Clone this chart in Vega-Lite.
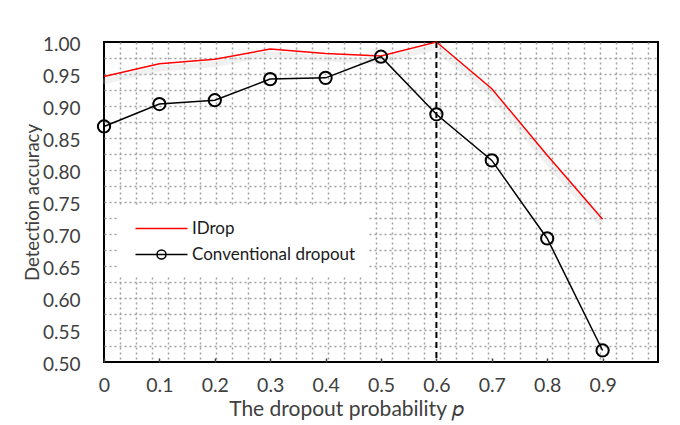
{
  "$schema": "https://vega.github.io/schema/vega-lite/v6.json",
  "autosize": {"type": "none"},
  "padding": {"left": 104, "top": 42, "right": 22, "bottom": 63},
  "width": 554,
  "height": 320,
  "background": "white",
  "config": {
    "view": {"stroke": "#000000", "strokeWidth": 2},
    "font": "Lato",
    "axis": {"labelFont": "Lato", "titleFont": "Lato", "labelColor": "#404040", "titleColor": "#404040", "titleFontWeight": "normal"}
  },
  "datasets": {
    "acc": [
      {"p": 0.0, "series": "IDrop", "acc": 0.946},
      {"p": 0.1, "series": "IDrop", "acc": 0.966},
      {"p": 0.2, "series": "IDrop", "acc": 0.973},
      {"p": 0.3, "series": "IDrop", "acc": 0.989},
      {"p": 0.4, "series": "IDrop", "acc": 0.982},
      {"p": 0.5, "series": "IDrop", "acc": 0.978},
      {"p": 0.6, "series": "IDrop", "acc": 1.0},
      {"p": 0.7, "series": "IDrop", "acc": 0.927},
      {"p": 0.8, "series": "IDrop", "acc": 0.823},
      {"p": 0.9, "series": "IDrop", "acc": 0.723},
      {"p": 0.0, "series": "Conventional dropout", "acc": 0.868},
      {"p": 0.1, "series": "Conventional dropout", "acc": 0.903},
      {"p": 0.2, "series": "Conventional dropout", "acc": 0.909},
      {"p": 0.3, "series": "Conventional dropout", "acc": 0.942},
      {"p": 0.4, "series": "Conventional dropout", "acc": 0.944},
      {"p": 0.5, "series": "Conventional dropout", "acc": 0.977},
      {"p": 0.6, "series": "Conventional dropout", "acc": 0.887},
      {"p": 0.7, "series": "Conventional dropout", "acc": 0.815},
      {"p": 0.8, "series": "Conventional dropout", "acc": 0.693},
      {"p": 0.9, "series": "Conventional dropout", "acc": 0.518}
    ],
    "marker": [{"p": 0.6}]
  },
  "resolve": {"axis": {"x": "independent", "y": "independent"}},
  "layer": [
    {
      "data": {"name": "acc"},
      "transform": [{"filter": "datum.series === 'IDrop'"}],
      "mark": {"type": "line", "stroke": "#c8c8c8", "strokeWidth": 6, "opacity": 0.25, "yOffset": 5, "xOffset": -1},
      "encoding": {
        "x": {"field": "p", "type": "quantitative", "axis": null},
        "y": {"field": "acc", "type": "quantitative", "axis": null}
      }
    },
    {
      "data": {"name": "acc"},
      "mark": {"type": "line", "strokeWidth": 1.5},
      "encoding": {
        "x": {
          "field": "p", "type": "quantitative",
          "scale": {"domain": [0, 1], "nice": false, "zero": false},
          "axis": {
            "orient": "bottom", "title": null, "labels": false, "ticks": false, "domain": false,
            "grid": true, "gridColor": "#a0a0a0", "gridDash": [2, 3], "gridWidth": 1.5,
            "values": [0.0289, 0.0578, 0.0867, 0.1156, 0.1445, 0.1734, 0.2023, 0.2312, 0.2601, 0.289, 0.3179, 0.3468, 0.3757, 0.4046, 0.4335, 0.4624, 0.4913, 0.5202, 0.5491, 0.578, 0.6069, 0.6358, 0.6647, 0.6936, 0.7225, 0.7514, 0.7803, 0.8092, 0.8381, 0.867, 0.8959, 0.9248, 0.9537, 0.9826]
          }
        },
        "y": {
          "field": "acc", "type": "quantitative",
          "scale": {"domain": [0.5, 1.0], "nice": false, "zero": false},
          "axis": {
            "orient": "left", "title": null, "labels": false, "ticks": false, "domain": false,
            "grid": true, "gridColor": "#a0a0a0", "gridDash": [2, 3], "gridWidth": 1.5,
            "values": [0.525, 0.55, 0.575, 0.6, 0.625, 0.65, 0.675, 0.7, 0.725, 0.75, 0.775, 0.8, 0.825, 0.85, 0.875, 0.9, 0.925, 0.95, 0.975]
          }
        },
        "stroke": {
          "field": "series", "type": "nominal",
          "scale": {"domain": ["IDrop", "Conventional dropout"], "range": ["#ff0000", "#000000"]},
          "legend": {
            "title": null,
            "orient": "none",
            "legendX": 15,
            "legendY": 164,
            "fillColor": "white",
            "padding": 13,
            "symbolType": "stroke",
            "symbolSize": 289,
            "symbolOffset": 20,
            "symbolStrokeWidth": 1.5,
            "labelFont": "Lato",
            "labelFontSize": 17,
            "labelColor": "#1a1a1a",
            "labelOffset": 21,
            "labelLimit": 400,
            "rowPadding": 8,
            "encode": {
              "symbols": {
                "update": {
                  "shape": {"signal": "datum.value === 'IDrop' ? 'M-3.06,0H3.06' : 'M-3.06,0H3.06M0.53,0A0.53,0.53,0,1,1,-0.53,0A0.53,0.53,0,1,1,0.53,0'"},
                  "fill": {"value": "transparent"}
                }
              }
            }
          }
        }
      }
    },
    {
      "data": {"name": "acc"},
      "transform": [{"filter": "datum.series === 'Conventional dropout'"}],
      "mark": {"type": "point", "shape": "circle", "filled": false, "stroke": "#000000", "strokeWidth": 2, "size": 150, "opacity": 1},
      "encoding": {
        "x": {
          "field": "p", "type": "quantitative",
          "axis": {
            "orient": "bottom", "title": "The dropout probability 𝑝", "titleFontSize": 21, "titlePadding": 4,
            "titleX": 242, "titleAnchor": null, "titleAlign": "center",
            "values": [0, 0.1, 0.2, 0.3, 0.4, 0.5, 0.6, 0.7, 0.8, 0.9],
            "labelExpr": "datum.value === 0 ? '0' : format(datum.value, '.1f')",
            "grid": false, "domain": false, "tickSize": -4, "tickColor": "#404040", "tickWidth": 1.5,
            "labelFontSize": 19.5, "labelPadding": 18, "labelFlush": false
          }
        },
        "y": {
          "field": "acc", "type": "quantitative",
          "axis": {
            "orient": "left", "title": "Detection accuracy", "titleFontSize": 18.5, "titlePadding": 0,
            "values": [0.5, 0.55, 0.6, 0.65, 0.7, 0.75, 0.8, 0.85, 0.9, 0.95, 1.0],
            "format": ".2f", "grid": false, "domain": false, "ticks": false,
            "labelFontSize": 19, "labelPadding": 24, "labelOffset": 2
          }
        }
      }
    },
    {
      "data": {"name": "marker"},
      "mark": {"type": "rule", "stroke": "#000000", "strokeWidth": 2, "strokeDash": [6, 4]},
      "encoding": {
        "x": {"field": "p", "type": "quantitative", "axis": null}
      }
    }
  ]
}
